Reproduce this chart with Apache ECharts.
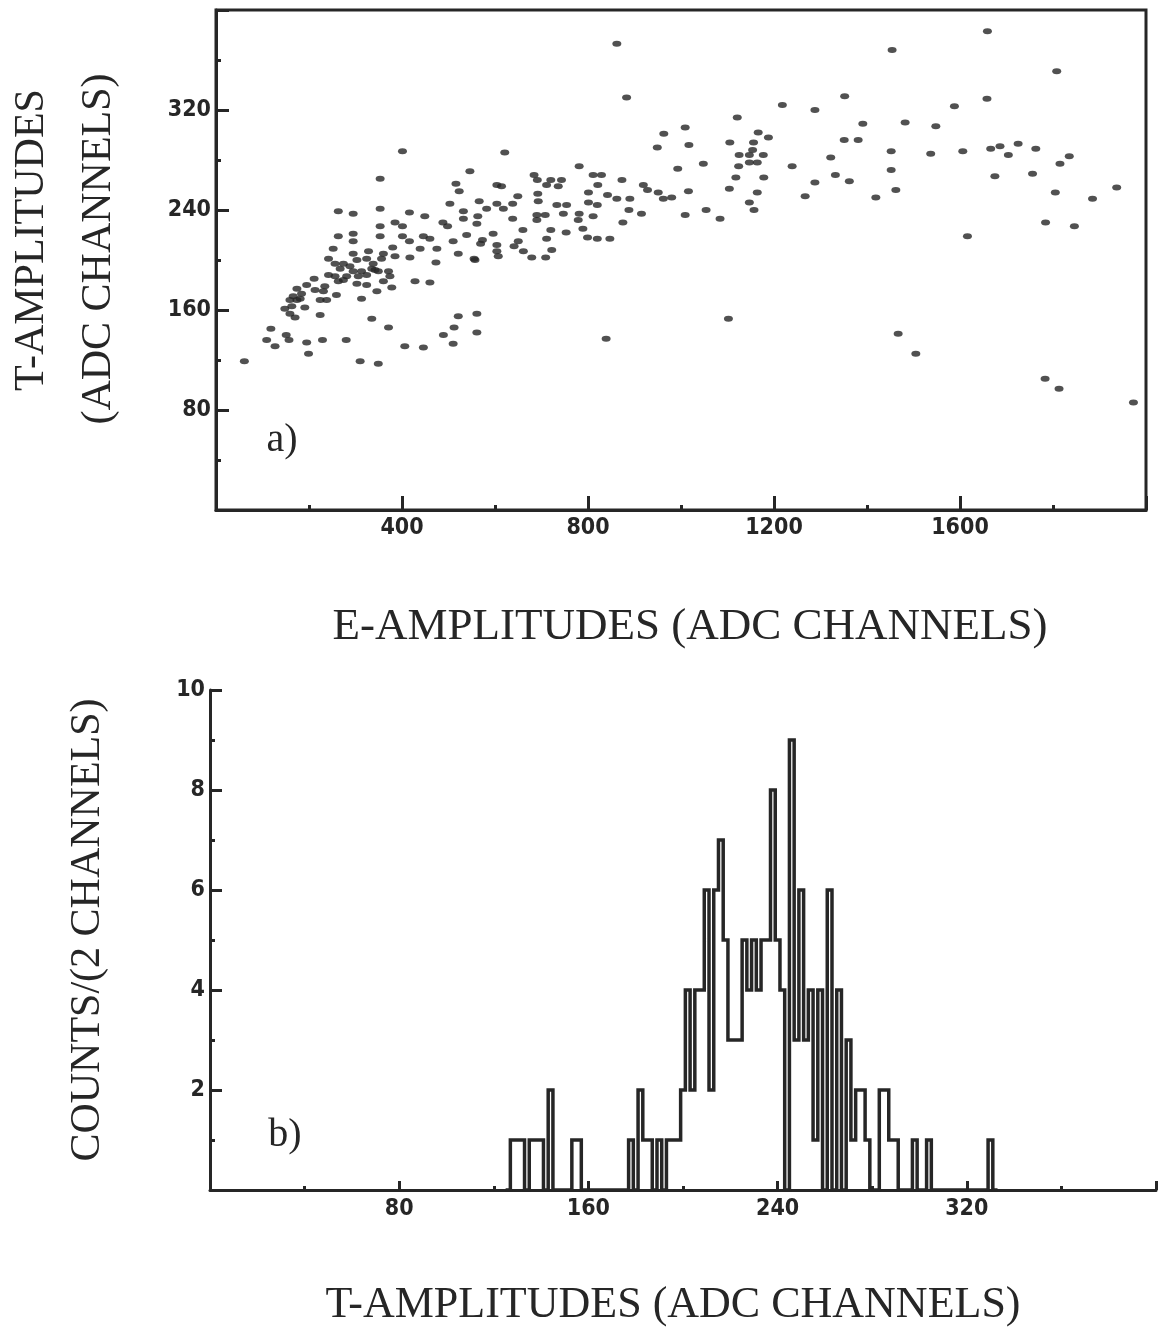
<!DOCTYPE html>
<html>
<head>
<meta charset="utf-8">
<script src="https://cdn.jsdelivr.net/npm/echarts@6/dist/echarts.min.js"></script>
<style>
html,body{margin:0;padding:0;background:#fff;}
#chart{width:1159px;height:1333px;}
</style>
</head>
<body>
<div id="chart"></div>
<script>
// ---------- DATA ----------
// Panel a): scatter, E-amplitude vs T-amplitude (ADC channels)
const eAmp = [862,883,1009,963,949,1017,401,621,993,781,546,353,516,523,614,684,691,720,743,736,711,692,693,811,829,873,821,801,842,862,890,919,928,951,962,980,1016,801,820,888,915,875,1009,733,754,747,708,690,690,781,811,779,789,753,799,820,847,720,711,722,679,709,660,638,649,638,618,604,604,582,566,563,532,503,488,498,532,561,539,510,573,596,604,641,650,661,604,569,521,475,439,460,446,416,401,416,449,385,401,353,353,353,295,263,263,295,295,252,295,328,360,380,417,555,607,
557,473,242,256,274,267,288,303,324,338,342,356,385,313,295,281,256,242,263,274,306,324,335,349,371,374,360,378,346,324,303,428,460,313,259,238,224,234,211,195,213,231,174,184,166,181,159,148,163,174,159,170,191,224,335,371,521,561,512,489,561,510,446,406,310,349,280,229,195,199,157,151,127,109,118,61,839,
1659,1454,1808,1352,1658,1218,1288,1588,1121,1391,1482,1548,1166,1188,1105,1156,1125,1147,1177,1154,1147,1164,1048,1124,1351,1381,1452,1537,1606,1666,1686,1725,1763,1704,1835,1815,1937,1885,1805,1756,1675,1452,1462,1419,1362,1332,1322,1288,1267,1239,1178,1118,1164,1104,1147,1157,1054,1084,1784,1846,1616,
1102,1467,1505,1783,1813,1973];
const tAmp = [373,330,306,301,290,292,287,286,273,275,271,265,261,255,259,268,264,264,264,259,260,253,247,268,268,264,260,254,252,249,249,260,256,254,249,250,255,246,244,240,237,230,236,244,244,237,236,236,232,237,235,232,225,222,218,217,217,224,217,208,202,202,224,233,251,245,241,245,260,241,247,235,239,245,230,227,233,229,220,215,216,221,212,211,215,207,207,213,205,209,209,217,219,215,219,238,235,230,227,241,227,219,237,239,219,221,215,209,205,207,205,210,202,201,203,
200,198,201,197,197,193,195,200,201,197,192,201,203,191,191,187,187,188,183,184,187,188,193,191,191,187,183,178,175,180,181,183,182,169,172,168,168,179,185,180,176,175,177,173,171,169,168,161,163,168,157,154,162,156,153,146,155,157,146,140,142,133,130,131,119,117,136,136,134,125,136,140,131,136,145,119,137,
383,368,351,331,329,324,320,323,314,309,310,307,302,298,294,294,284,284,284,288,278,278,277,275,296,296,287,285,287,289,291,293,289,284,283,277,258,249,254,269,267,272,256,250,263,268,282,262,251,275,266,266,254,257,246,240,240,233,230,227,219,
153,141,125,105,97,86];

// Panel b): histogram, counts per 2-channel bin, consecutive bins from histFirstBin
const histFirstBin = 125;
const histBinWidth = 2;
const histCounts = [
  0,1,1,1,0,1,1,1,0,2,      // 125..143
  0,0,0,0,1,1,0,0,0,0,      // 145..163
  0,0,0,0,0,0,1,0,2,1,      // 165..183
  1,0,1,0,1,1,1,2,4,2,      // 185..203
  4,4,6,2,6,7,5,3,3,3,      // 205..223
  5,4,5,4,5,5,8,5,4,0,      // 225..243
  9,3,6,3,4,1,4,0,6,0,      // 245..263
  4,0,3,1,2,2,1,0,0,2,      // 265..283
  2,1,1,0,0,0,1,0,0,1,      // 285..303
  0,0,0,0,0,0,0,0,0,0,      // 305..323
  0,0,1,0                   // 325..331
];

// Tick labels
const aXTicks = [400, 800, 1200, 1600];
const aYTicks = [80, 160, 240, 320];
const bXTicks = [80, 160, 240, 320];
const bYTicks = [2, 4, 6, 8, 10];

// ---------- BUILD ----------
const scatterData = eAmp.map((e, i) => [e, tAmp[i]]);
const histLine = [[histFirstBin, 0]];
histCounts.forEach((c, i) => {
  const left = histFirstBin + i * histBinWidth;
  histLine.push([left, c]);
  histLine.push([left + histBinWidth, c]);
});
histLine.push([histFirstBin + histCounts.length * histBinWidth, 0]);

const ink = '#262626';
const tickFont = {
  fontFamily: "'DejaVu Sans Condensed','Liberation Sans Narrow','DejaVu Sans',sans-serif",
  fontWeight: 'bold',
  fontSize: 23,
  color: ink
};
const serif = "'Liberation Serif','DejaVu Serif',serif";

function axisCommon(ticks, opts) {
  return Object.assign({
    type: 'value',
    splitLine: {show: false},
    axisLine: {show: true, lineStyle: {color: ink, width: 3}},
    axisTick: {show: true, inside: true, length: 13, lineStyle: {color: ink, width: 3}},
    minorTick: {show: true, splitNumber: 2, length: 5, lineStyle: {color: ink, width: 3}},
    axisLabel: Object.assign({
      formatter: v => ticks.indexOf(v) >= 0 ? String(v) : ''
    }, tickFont)
  }, opts);
}

const chart = echarts.init(document.getElementById('chart'), null, {renderer: 'canvas'});
const option = {
  backgroundColor: '#fff',
  animation: false,
  grid: [
    {left: 216, top: 10, width: 930, height: 500, show: true, borderColor: ink, borderWidth: 3, backgroundColor: 'transparent'},
    {left: 210, top: 690, width: 950, height: 500}
  ],
  xAxis: [
    axisCommon(aXTicks, {gridIndex: 0, min: 0, max: 2000, interval: 400,
      axisLabel: Object.assign({formatter: v => aXTicks.indexOf(v) >= 0 ? String(v) : '', margin: 7}, tickFont),
      axisTick: {show: true, inside: true, length: 14, lineStyle: {color: ink, width: 3}}}),
    axisCommon(bXTicks, {gridIndex: 1, min: 0, max: 400, interval: 80,
      axisLabel: Object.assign({formatter: v => bXTicks.indexOf(v) >= 0 ? String(v) : '', margin: 8}, tickFont),
      axisTick: {show: true, inside: true, length: 9, lineStyle: {color: ink, width: 3}},
      minorTick: {show: true, splitNumber: 2, length: 4, lineStyle: {color: ink, width: 3}}})
  ],
  yAxis: [
    axisCommon(aYTicks, {gridIndex: 0, min: 0, max: 400, interval: 80,
      axisLabel: Object.assign({formatter: v => aYTicks.indexOf(v) >= 0 ? String(v) : '', margin: 5}, tickFont)}),
    axisCommon(bYTicks, {gridIndex: 1, min: 0, max: 10, interval: 2,
      axisLabel: Object.assign({formatter: v => bYTicks.indexOf(v) >= 0 ? String(v) : '', margin: 5}, tickFont),
      axisTick: {show: true, inside: true, length: 12, lineStyle: {color: ink, width: 3}}})
  ],
  series: [
    {
      type: 'scatter', xAxisIndex: 0, yAxisIndex: 0,
      data: scatterData,
      symbol: 'circle', symbolSize: [9, 6],
      itemStyle: {color: ink},
      emphasis: {disabled: true}, silent: true
    },
    {
      type: 'line', xAxisIndex: 1, yAxisIndex: 1,
      data: histLine,
      showSymbol: false, symbol: 'none',
      lineStyle: {color: ink, width: 3.5, join: 'miter'},
      emphasis: {disabled: true}, silent: true
    }
  ],
  graphic: [
    {type: 'text', x: 32, y: 240, rotation: Math.PI / 2,
      style: {text: 'T-AMPLITUDES', font: '42px ' + serif, fill: ink, align: 'center', verticalAlign: 'middle'}},
    {type: 'text', x: 99, y: 249, rotation: Math.PI / 2,
      style: {text: '(ADC CHANNELS)', font: '42px ' + serif, fill: ink, align: 'center', verticalAlign: 'middle'}},
    {type: 'text', x: 690, y: 627,
      style: {text: 'E-AMPLITUDES (ADC CHANNELS)', font: '45px ' + serif, fill: ink, align: 'center', verticalAlign: 'middle'}},
    {type: 'text', x: 88, y: 930, rotation: Math.PI / 2,
      style: {text: 'COUNTS/(2 CHANNELS)', font: '42px ' + serif, fill: ink, align: 'center', verticalAlign: 'middle'}},
    {type: 'text', x: 673, y: 1305,
      style: {text: 'T-AMPLITUDES (ADC CHANNELS)', font: '44px ' + serif, fill: ink, align: 'center', verticalAlign: 'middle'}},
    {type: 'text', x: 282, y: 440,
      style: {text: 'a)', font: '40px ' + serif, fill: ink, align: 'center', verticalAlign: 'middle'}},
    {type: 'text', x: 285, y: 1135,
      style: {text: 'b)', font: '40px ' + serif, fill: ink, align: 'center', verticalAlign: 'middle'}}
  ]
};
chart.setOption(option);
</script>
</body>
</html>
